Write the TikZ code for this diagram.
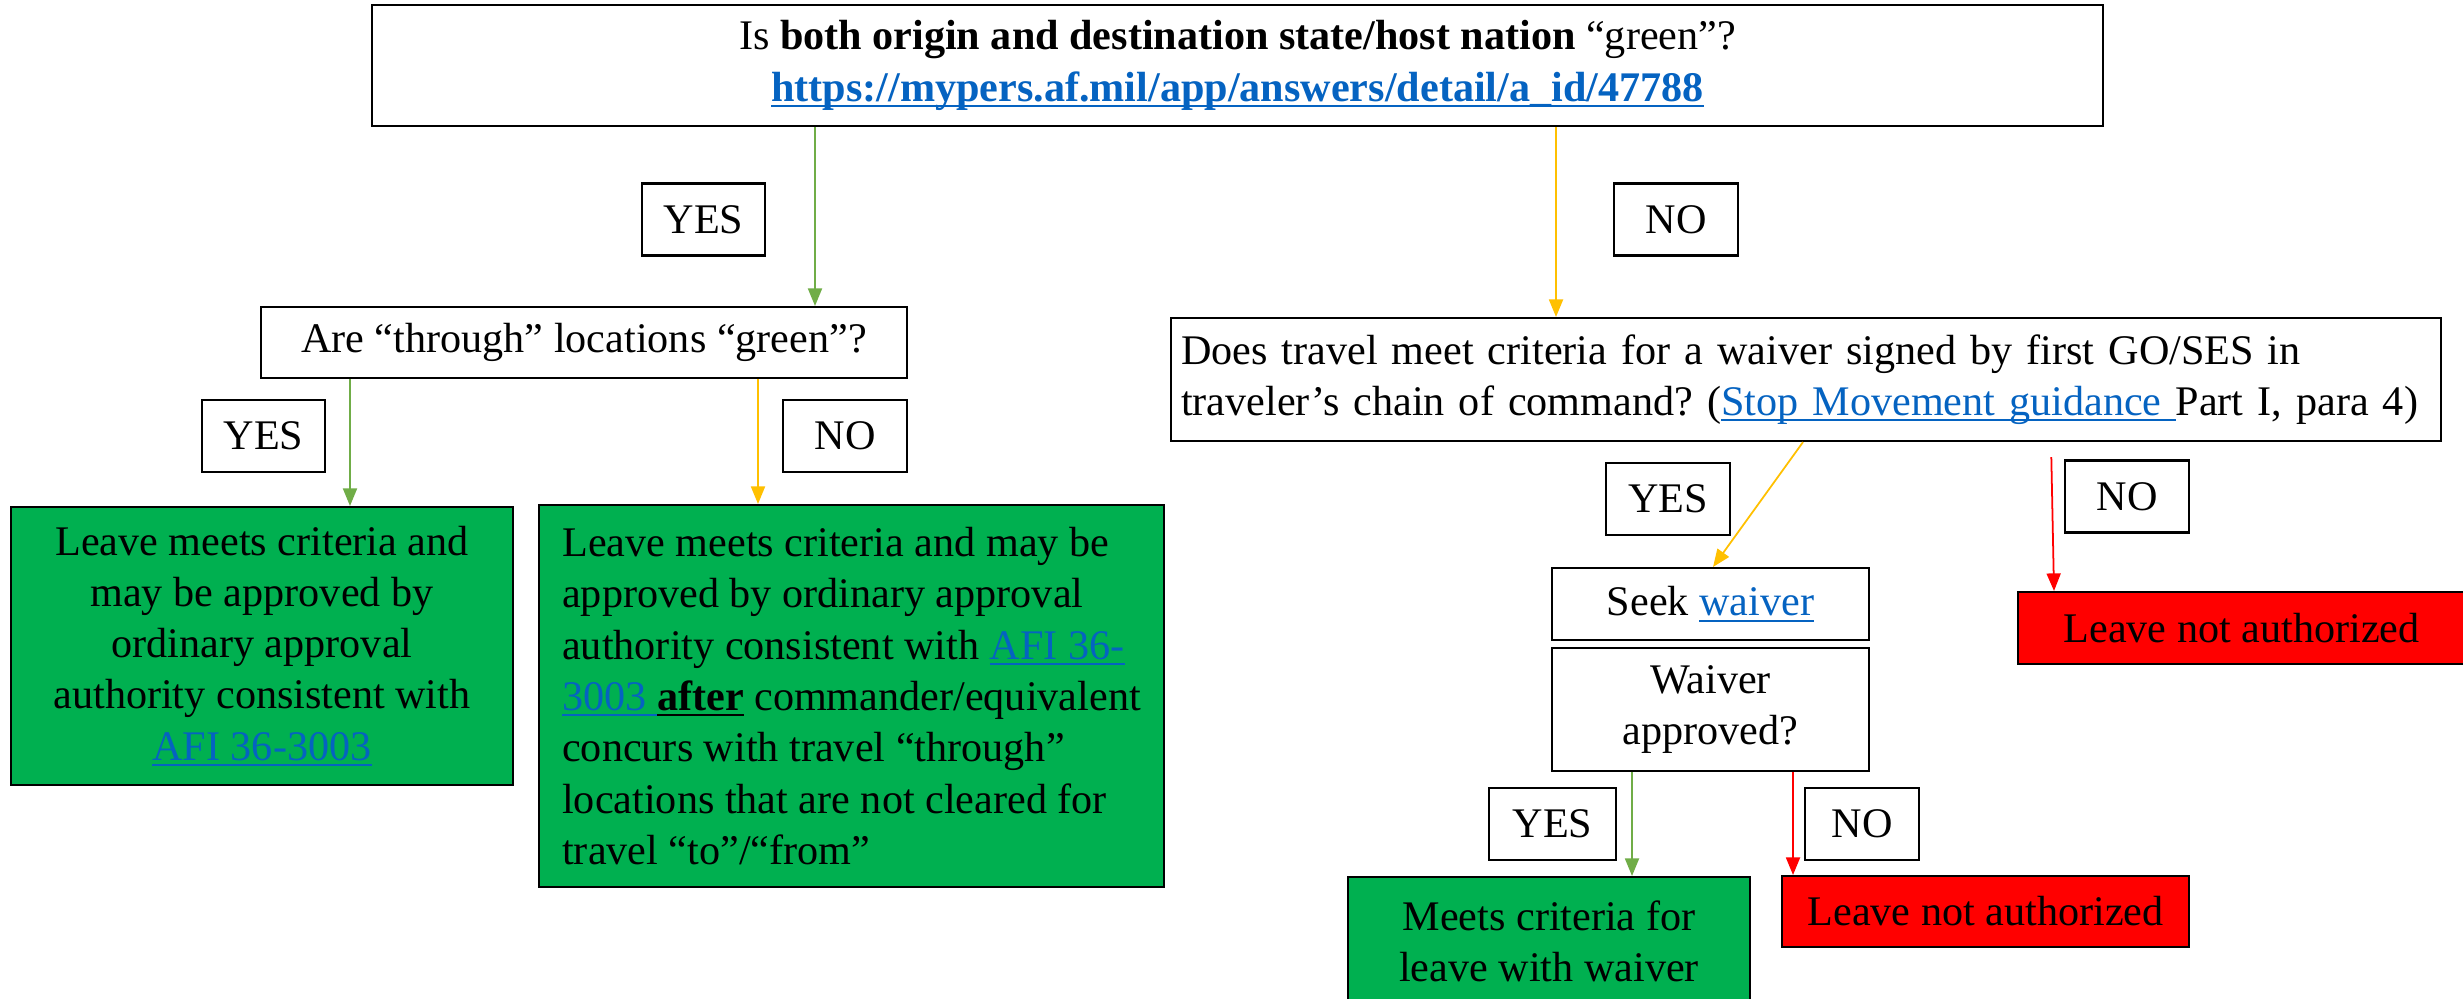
\documentclass[tikz,border=0pt]{standalone}
\usepackage{fontspec}
\setmainfont{Liberation Serif}
\usetikzlibrary{arrows.meta}
\frenchspacing
\definecolor{okgreen}{RGB}{0,176,80}
\definecolor{nored}{RGB}{255,0,0}
\definecolor{yesgreen}{RGB}{112,173,71}
\definecolor{noamber}{RGB}{255,192,0}
\definecolor{linkblue}{RGB}{5,99,193}
\newcommand{\linkul}[1]{\setbox0=\hbox{#1}\rlap{\rule[-1.7pt]{\wd0}{0.6pt}}\box0\relax}
\newcommand{\lnk}[1]{{\color{linkblue}\linkul{#1}}}
\tikzset{
	box/.style={draw, line width=0.6pt, align=center, inner sep=0pt, font=\fontsize{12}{14.6}\selectfont},
	okbox/.style={box, fill=okgreen},
	nobox/.style={box, fill=nored},
	ans/.style={box, minimum height=0.72cm},
	yesline/.style={yesgreen, line width=0.5pt, -{Triangle[length=5pt,width=4pt]}},
	ambline/.style={noamber, line width=0.5pt, -{Triangle[length=5pt,width=4pt]}},
	redline/.style={nored, line width=0.5pt, -{Triangle[length=5pt,width=4pt]}}
}
\begin{document}
\begin{tikzpicture}
\path[use as bounding box, fill=white] (0,0) rectangle (24.63,-9.98);
\node[box, minimum width=17.31cm, minimum height=1.21cm] (origin) at (12.375,-0.655)
	{Is \textbf{both origin and destination state/host nation} “green”?\\
	\lnk{\textbf{https://mypers.af.mil/app/answers/detail/a\_id/47788}}};
\node[ans, minimum width=1.23cm] (yesA) at (7.035,-2.195) {YES};
\node[ans, minimum width=1.24cm] (noA) at (16.76,-2.195) {NO};
\node[box, minimum width=6.46cm, minimum height=0.71cm] (through) at (5.84,-3.425)
	{Are “through” locations “green”?};
\node[ans, minimum width=1.23cm] (yesB) at (2.635,-4.36) {YES};
\node[ans, minimum width=1.24cm] (noB) at (8.45,-4.36) {NO};
\node[okbox, minimum width=5.02cm, minimum height=2.78cm] (leaveok) at (2.62,-6.46)
	{Leave meets criteria and\\may be approved by\\ordinary approval\\authority consistent with\\\lnk{AFI 36-3003}};
\node[okbox, align=left, minimum width=6.25cm, minimum height=3.82cm] (leaveconcur) at (8.515,-6.96)
	{Leave meets criteria and may be\\approved by ordinary approval\\authority consistent with \lnk{AFI 36-}\\
	\lnk{3003\ }\linkul{\textbf{after}} commander/equivalent\\concurs with travel “through”\\
	locations that are not cleared for\\travel “to”/“from”};
\node[box, align=left, text width=12.5cm, inner xsep=0.1cm, minimum height=1.23cm] (waivercrit) at (18.06,-3.795)
	{Does travel meet criteria for a waiver signed by first GO/SES in\\
	traveler’s chain of command? (\lnk{Stop Movement guidance\ }Part I, para 4)};
\node[ans, minimum width=1.24cm] (yesC) at (16.68,-4.99) {YES};
\node[ans, minimum width=1.24cm] (noC) at (21.27,-4.965) {NO};
\node[box, minimum width=3.17cm, minimum height=0.72cm] (seek) at (17.105,-6.04) {Seek \lnk{waiver}};
\node[box, minimum width=3.17cm, minimum height=1.23cm] (approved) at (17.105,-7.095) {Waiver\\approved?};
\node[nobox, minimum width=4.47cm, minimum height=0.72cm] (denyA) at (22.415,-6.28) {Leave not authorized};
\node[ans, minimum width=1.27cm] (yesD) at (15.525,-8.24) {YES};
\node[ans, minimum width=1.14cm] (noD) at (18.62,-8.24) {NO};
\node[okbox, minimum width=4.02cm, minimum height=1.28cm] (withwaiver) at (15.49,-9.41)
	{Meets criteria for\\leave with waiver};
\node[nobox, minimum width=4.07cm, minimum height=0.71cm] (denyB) at (19.855,-9.115) {Leave not authorized};
\draw[yesline] (origin.south -| 8.15,0) -- (through.north -| 8.15,0);
\draw[ambline] (origin.south -| 15.56,0) -- (waivercrit.north -| 15.56,0);
\draw[yesline] (through.south -| 3.5,0) -- (leaveok.north -| 3.5,0);
\draw[ambline] (through.south -| 7.58,0) -- (leaveconcur.north -| 7.58,0);
\draw[ambline] (waivercrit.south -| 18.03,0) -- (seek.north -| 17.13,0);
\draw[redline, shorten <=1.5mm] (waivercrit.south -| 20.51,0) -- (denyA.north -| 20.54,0);
\draw[yesline] (approved.south -| 16.32,0) -- (withwaiver.north -| 16.32,0);
\draw[redline] (approved.south -| 17.93,0) -- (denyB.north -| 17.93,0);
\end{tikzpicture}
\end{document}
